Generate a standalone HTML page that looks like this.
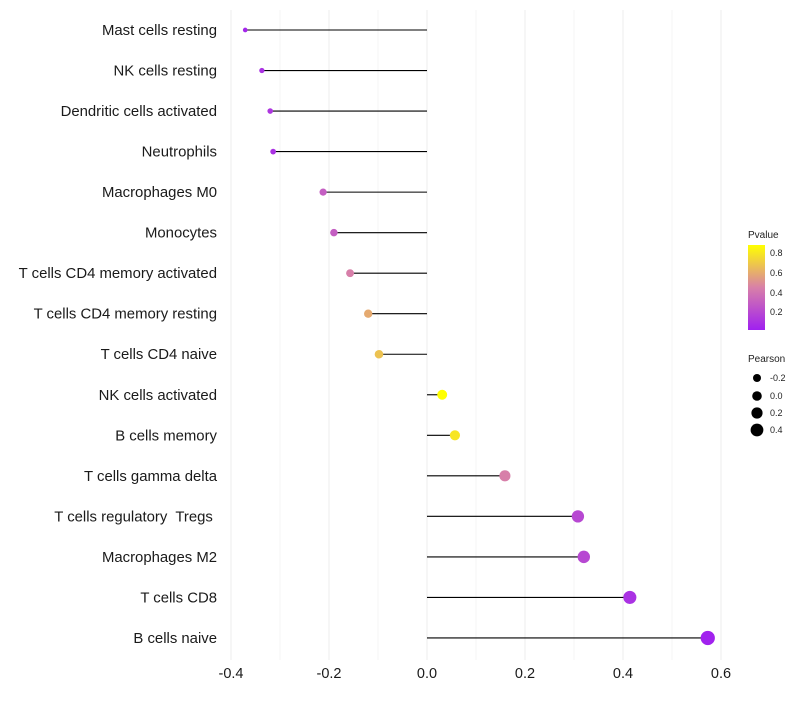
<!DOCTYPE html>
<html><head><meta charset="utf-8"><style>
body{margin:0;background:#fff;font-family:"Liberation Sans",sans-serif;}
text{white-space:pre;}
</style></head><body>
<svg id="chart" width="800" height="700" xmlns="http://www.w3.org/2000/svg">
<defs><linearGradient id="pg" x1="0" y1="1" x2="0" y2="0">
<stop offset="0" stop-color="#a020f0"/><stop offset="0.5" stop-color="#d880a8"/><stop offset="1" stop-color="#ffff00"/>
</linearGradient></defs>
<g id="grid"></g><g id="marks"></g><g id="labels"></g>
<g font-size="9" fill="#222">
<text x="748" y="238" font-size="10">Pvalue</text>
<rect x="748" y="245" width="17" height="85" fill="url(#pg)"/>
<text x="770" y="256">0.8</text><text x="770" y="276">0.6</text><text x="770" y="296">0.4</text><text x="770" y="315">0.2</text>
</g>
<g font-size="9" fill="#222">
<text x="748" y="362" font-size="10">Pearson</text>
<circle cx="757" cy="378" r="4" fill="#000"/><text x="770" y="381">-0.2</text>
<circle cx="757" cy="396" r="4.8" fill="#000"/><text x="770" y="399">0.0</text>
<circle cx="757" cy="413" r="5.6" fill="#000"/><text x="770" y="416">0.2</text>
<circle cx="757" cy="430" r="6.4" fill="#000"/><text x="770" y="433">0.4</text>
</g>
</svg>
<script>
const categories=["Mast cells resting","NK cells resting","Dendritic cells activated","Neutrophils","Macrophages M0","Monocytes","T cells CD4 memory activated","T cells CD4 memory resting","T cells CD4 naive","NK cells activated","B cells memory","T cells gamma delta","T cells regulatory  Tregs ","Macrophages M2","T cells CD8","B cells naive"];
const pearson=[-0.371,-0.337,-0.320,-0.314,-0.212,-0.190,-0.157,-0.120,-0.098,0.031,0.057,0.159,0.308,0.320,0.414,0.573];
const pvalues=[0.05,0.1,0.12,0.1,0.3,0.3,0.45,0.6,0.68,0.9,0.8,0.45,0.2,0.2,0.1,0.03];
const xTicks=[-0.4,-0.2,0.0,0.2,0.4,0.6];
const NS="http://www.w3.org/2000/svg";
function xs(v){return 427+v*490;}
function ys(i){return 30+i*40.53;}
function rs(p){return Math.sqrt(4+ (p+0.4)*48);}
function col(p){const t=Math.max(0,Math.min(1,(p-0.02)/0.87));
 const a=t<0.5?[160,32,240]:[216,128,168], b=t<0.5?[216,128,168]:[255,255,0], u=t<0.5?t*2:(t-0.5)*2;
 return "rgb("+a.map((c,k)=>Math.round(c+(b[k]-c)*u)).join(",")+")";}
function mk(tag,at,parent){const e=document.createElementNS(NS,tag);for(const k in at)e.setAttribute(k,at[k]);parent.appendChild(e);return e;}
const grid=document.getElementById('grid'),marks=document.getElementById('marks'),labels=document.getElementById('labels');
for(let v=-0.4;v<=0.61;v+=0.1){const g=mk('line',{x1:xs(v),x2:xs(v),y1:10,y2:660,stroke:'#eeeeee','stroke-width':Math.abs(Math.round(v*10))%2===0?1.1:0.6},grid);

}
xTicks.forEach(v=>{const t=mk('text',{x:xs(v),y:678,'text-anchor':'middle','font-size':14.5,fill:'#1a1a1a'},labels);t.textContent=v.toFixed(1);

});
categories.forEach((c,i)=>{const y=ys(i);
 const t=mk('text',{x:217,y:y+5,'text-anchor':'end','font-size':14.9,fill:'#1a1a1a'},labels);t.textContent=c;
 
 
 const l=mk('line',{x1:xs(0),x2:xs(pearson[i]),y1:y,y2:y,stroke:'#000','stroke-width':1.1},marks);
 
 
 const p=mk('circle',{cx:xs(pearson[i]),cy:y,r:rs(pearson[i]),fill:col(pvalues[i])},marks);
 
 
});
</script>
</body></html>
